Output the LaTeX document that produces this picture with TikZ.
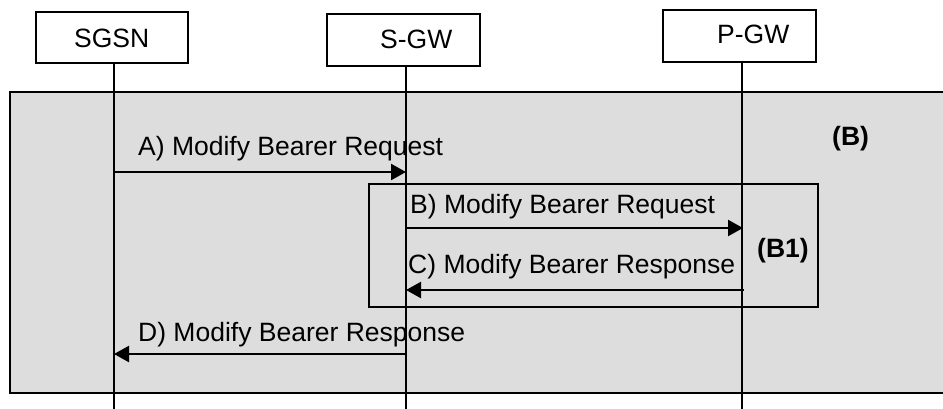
\documentclass[tikz,border=0pt]{standalone}
\usepackage{fontspec}
\setmainfont{Liberation Sans}
\usetikzlibrary{arrows.meta}
\definecolor{bgray}{RGB}{221,221,221}
\begin{document}
\begin{tikzpicture}[x=1pt,y=-1pt,
  ent/.style={draw,line width=2pt,inner sep=0pt},
  txt/.style={inner sep=0pt,anchor=base west,font=\fontsize{26.5}{30}\selectfont},
  btxt/.style={inner sep=0pt,anchor=base west,font=\fontsize{26.5}{30}\selectfont\bfseries},
  life/.style={line width=2pt},
  msg/.style={line width=2.3pt,-{Triangle[length=15pt,width=16pt]}}]
\useasboundingbox (0,0) rectangle (943,408);
\fill[white] (0,0) rectangle (943,408);
% group (B)
\draw[line width=2.7pt,fill=bgray] (10,92) rectangle (990,393);
% group (B1)
\draw[line width=2.2pt] (369,184) rectangle (818,307);
% entities
\node[ent,minimum width=152pt,minimum height=51pt] (sgsn) at (112,37.5) {};
\node[ent,minimum width=153pt,minimum height=52pt] (sgw) at (403.5,40) {};
\node[ent,minimum width=153pt,minimum height=52pt] (pgw) at (739.5,36) {};
\node[txt] (sgsnT) at (74,47) {SGSN};
\node[txt] (sgwT) at (380,48) {S-GW};
\node[txt] (pgwT) at (717,43) {P-GW};
% lifeline coordinates
\coordinate (l1t) at (114,63);  \coordinate (l1b) at (114,410);
\coordinate (l2t) at (406,66);  \coordinate (l2b) at (406,410);
\coordinate (l3t) at (742,62);  \coordinate (l3b) at (742,410);
\draw[life] (l1t) -- (l1b);
\draw[life] (l2t) -- (l2b);
\draw[life] (l3t) -- (l3b);
% message end points
\coordinate (a1) at (114,172); \coordinate (a2) at (406,172);
\coordinate (b1) at (406,228); \coordinate (b2) at (743,228);
\coordinate (c1) at (744,290); \coordinate (c2) at (406,290);
\coordinate (d1) at (407,354); \coordinate (d2) at (114,354);
\draw[msg] (a1) -- (a2);
\draw[msg] (b1) -- (b2);
\draw[msg] (c1) -- (c2);
\draw[msg] (d1) -- (d2);
% labels
\node[txt] (la) at (138,155) {A) Modify Bearer Request};
\node[txt] (lb) at (410,213) {B) Modify Bearer Request};
\node[txt] (lc) at (408,273) {C) Modify Bearer Response};
\node[txt] (ld) at (138,341) {D) Modify Bearer Response};
\node[btxt] (gB) at (832,145) {(B)};
\node[btxt] (gB1) at (757,257) {(B1)};
\end{tikzpicture}
\end{document}
